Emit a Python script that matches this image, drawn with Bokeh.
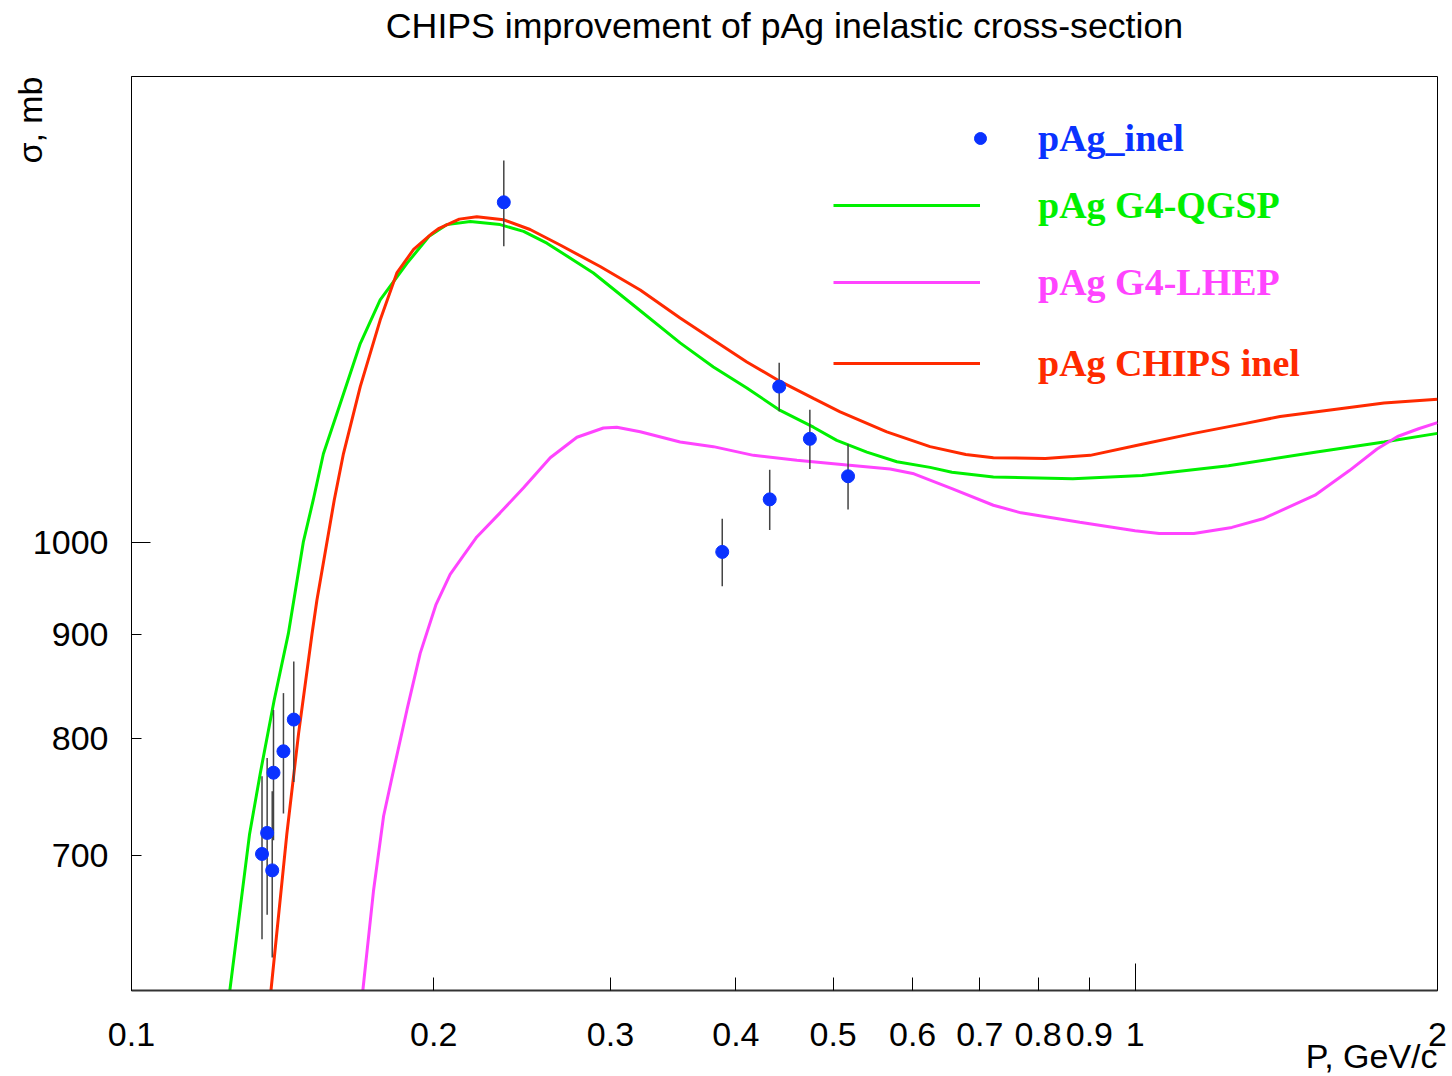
from bokeh.plotting import figure
from bokeh.models import (FixedTicker, CustomJSTickFormatter, Legend,
                          LegendItem, ColumnDataSource, Title)
from bokeh.embed import file_html
from bokeh.resources import INLINE

# ---- data ----
data_p = [0.1349, 0.1365, 0.1381, 0.1385, 0.1417, 0.1451, 0.2349,
          0.3877, 0.4323, 0.4418, 0.4740, 0.5174]
data_sigma = [701, 718, 688, 769, 788, 817, 1473, 989, 1050, 1194, 1125, 1078]
data_err = [65, 64, 65, 57, 54, 56, 72, 38, 36, 33, 38, 40]

qgsp_p = [0.1253, 0.1311, 0.1344, 0.1387, 0.1433, 0.1483, 0.1517, 0.1553,
          0.1614, 0.1690, 0.1769, 0.1881, 0.1979, 0.2062, 0.2175, 0.2329,
          0.2458, 0.2593, 0.2885, 0.3163, 0.3520, 0.3799, 0.4102, 0.4428,
          0.4779, 0.5042, 0.5402, 0.5787, 0.6245, 0.6566, 0.7221, 0.8665,
          1.0156, 1.238, 1.510, 1.769, 2.0]
qgsp_sigma = [600, 717, 769, 835, 901, 1000, 1049, 1106,
              1171, 1254, 1318, 1374, 1417, 1436, 1441, 1436,
              1425, 1406, 1359, 1310, 1255, 1221, 1192, 1162,
              1140, 1123, 1108, 1096, 1089, 1083, 1077, 1075,
              1079, 1091, 1108, 1121, 1132]

lhep_p = [0.1700, 0.1742, 0.1783, 0.1824, 0.1881, 0.1939, 0.2010, 0.2077,
          0.2142, 0.2208, 0.2329, 0.2458, 0.2613, 0.2778, 0.2952, 0.3044,
          0.3212, 0.3520, 0.3799, 0.4165, 0.4601, 0.5159, 0.5698, 0.6018,
          0.6566, 0.7221, 0.7695, 0.8804, 0.9994, 1.0565, 1.1437, 1.248,
          1.340, 1.510, 1.634, 1.741, 1.825, 1.915, 2.0]
lhep_sigma = [600, 672, 732, 771, 826, 881, 931, 964,
              985, 1006, 1034, 1064, 1101, 1127, 1139, 1140,
              1134, 1121, 1115, 1104, 1098, 1092, 1087, 1081,
              1063, 1043, 1034, 1023, 1013, 1010, 1010, 1017,
              1027, 1055, 1085, 1112, 1128, 1138, 1146]

chips_p = [0.1377, 0.1428, 0.1467, 0.1513, 0.1530, 0.1592, 0.1626, 0.1690,
           0.1769, 0.1838, 0.1910, 0.1994, 0.2025, 0.2121, 0.2208, 0.2347,
           0.2495, 0.2673, 0.2930, 0.3212, 0.3520, 0.3799, 0.4102, 0.4428,
           0.4779, 0.5081, 0.5655, 0.6245, 0.6778, 0.7221, 0.8134, 0.9017,
           1.0156, 1.1437, 1.288, 1.394, 1.571, 1.769, 2.0]
chips_sigma = [600, 717, 804, 901, 936, 1049, 1106, 1194,
               1288, 1359, 1396, 1422, 1430, 1445, 1449, 1444,
               1428, 1403, 1369, 1333, 1291, 1259, 1228, 1201,
               1178, 1160, 1134, 1115, 1105, 1101, 1100, 1104,
               1118, 1132, 1145, 1154, 1163, 1172, 1177]

x_ticks = [0.1, 0.2, 0.3, 0.4, 0.5, 0.6, 0.7, 0.8, 0.9, 1, 2]
y_ticks = [700, 800, 900, 1000]

title_text = "CHIPS improvement of pAg inelastic cross-section"
x_title = "P, GeV/c"
y_title = "\u03c3, mb"
names = ["pAg_inel", "pAg G4-QGSP", "pAg G4-LHEP", "pAg CHIPS inel"]

BLUE = "#0a32ff"
GREEN = "#00f000"
MAGENTA = "#ff44ff"
RED = "#ff2a00"
SANS = "Liberation Sans"
SERIF = "Liberation Serif"

p = figure(width=1452, height=1076, x_axis_type="log", y_axis_type="log",
           x_range=(0.1, 2), y_range=(600, 1700),
           output_backend="svg", toolbar_location=None,
           min_border_left=131, min_border_right=15,
           min_border_top=76, min_border_bottom=86)
p.background_fill_color = "white"
p.border_fill_color = "white"
p.grid.visible = False
p.outline_line_color = "black"
p.outline_line_width = 1

# main title (outermost slot)
p.title.text = title_text
p.title.align = "center"
p.title.vertical_align = "top"
p.title.standoff = 2
p.title.text_font = SANS
p.title.text_font_style = "normal"
p.title.text_font_size = "35.7px"
p.title.text_color = "black"
# white spacer between title and frame
p.add_layout(Title(text=".", text_color="white", text_font_size="10px",
                   standoff=18), "above")

fmt = CustomJSTickFormatter(code="return String(tick)")

xa = p.xaxis[0]
xa.ticker = FixedTicker(ticks=x_ticks, minor_ticks=[1])
xa.formatter = fmt
xa.major_tick_in = 13
xa.major_tick_out = 0
xa.minor_tick_in = 27
xa.minor_tick_out = 0
xa.axis_line_width = 2
xa.axis_line_color = "#333333"
xa.major_label_standoff = 32
xa.major_label_text_font = SANS
xa.major_label_text_font_size = "34px"
xa.major_label_text_color = "black"

ya = p.yaxis[0]
ya.ticker = FixedTicker(ticks=y_ticks, minor_ticks=[1000])
ya.formatter = fmt
ya.major_tick_in = 10
ya.major_tick_out = 0
ya.minor_tick_in = 19
ya.minor_tick_out = 0
ya.axis_line_color = "black"
ya.major_label_standoff = 23
ya.major_label_text_font = SANS
ya.major_label_text_font_size = "34px"
ya.major_label_text_color = "black"

# axis titles as side-panel titles
p.add_layout(Title(text=y_title, align="right", vertical_align="bottom",
                   standoff=-39, offset=0, text_font=SANS,
                   text_font_style="normal", text_font_size="34px",
                   text_color="black"), "left")
p.add_layout(Title(text=x_title, align="right", vertical_align="top",
                   standoff=-24, offset=0, text_font=SANS,
                   text_font_style="normal", text_font_size="34px",
                   text_color="black"), "below")

r_qgsp = p.line(qgsp_p, qgsp_sigma, line_color=GREEN, line_width=3)
r_lhep = p.line(lhep_p, lhep_sigma, line_color=MAGENTA, line_width=3)
r_chips = p.line(chips_p, chips_sigma, line_color=RED, line_width=3)

src = ColumnDataSource(dict(
    x=data_p, y=data_sigma,
    lo=[s - e for s, e in zip(data_sigma, data_err)],
    hi=[s + e for s, e in zip(data_sigma, data_err)]))
p.segment(x0="x", y0="lo", x1="x", y1="hi", source=src,
          line_color="#444444", line_width=1.5)
r_data = p.scatter("x", "y", source=src, size=13, marker="circle",
                   fill_color=BLUE, line_color=BLUE)

# legends (one per entry so that each label has its own colour)
def add_legend(renderer, label, color, x, y, gw, standoff):
    lg = Legend(items=[LegendItem(label=label, renderers=[renderer])],
                location=(x, y), orientation="vertical",
                glyph_width=gw, glyph_height=44, label_height=44,
                label_standoff=standoff, padding=0, margin=0, spacing=0,
                border_line_alpha=0, background_fill_alpha=0,
                label_text_font=SERIF, label_text_font_style="bold",
                label_text_font_size="38px", label_text_color=color)
    p.add_layout(lg)

add_legend(r_data, names[0], BLUE, 834, 830, 30, 43)
add_legend(r_qgsp, names[1], GREEN, 702, 763, 147, 58)
add_legend(r_lhep, names[2], MAGENTA, 702, 686, 147, 58)
add_legend(r_chips, names[3], RED, 702, 605, 147, 58)

open("out.html", "w").write(file_html(p, INLINE))
